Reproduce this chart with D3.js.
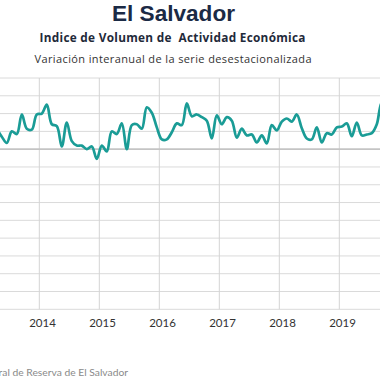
<!DOCTYPE html>
<html>
<head>
<meta charset="utf-8">
<script src="https://cdn.jsdelivr.net/npm/d3@7/dist/d3.min.js"></script>
<style>
  html, body { margin: 0; padding: 0; background: #fff; overflow: hidden; }
  svg { display: block; }
</style>
</head>
<body>
<svg id="chart" width="380" height="380"></svg>
<script>
// Monthly index: 0 = Jan 2014
const startMonth = -9; // Apr 2013
const values = [
  2.3, 1.4, 0.7, 2.0, 1.7, 3.9, 2.3, 2.2, 3.9,          // Apr-Dec 2013
  4.0, 5.0, 2.8, 2.6, 0.3, 3.0, 0.9, 0.4, 0.4, 0.0, 0.3, -1.1, // 2014
  0.4, -0.25, 2.0, 1.7, 2.9, 0.0, 2.7, 2.8, 2.3, 4.7, 4.1, 2.45, // 2015
  1.1, 1.1, 1.9, 2.9, 2.7, 5.15, 3.7, 3.9, 3.6, 3.2, 1.2, 3.8,   // 2016
  2.8, 3.6, 3.2, 1.3, 2.3, 1.55, 1.65, 0.75, 1.55, 0.65, 2.7, 2.1, // 2017
  3.1, 3.45, 3.1, 3.9, 2.35, 1.2, 1.1, 2.45, 0.75, 1.8, 1.65, 2.45, // 2018
  2.55, 2.9, 1.45, 3.0, 1.55, 1.65, 1.8, 2.8, 5.25, 5.5           // 2019
];
const years = ["2014", "2015", "2016", "2017", "2018", "2019"];
const yTicks = [-18, -16, -14, -12, -10, -8, -6, -4, -2, 0, 2, 4, 6, 8];

const data = values.map((v, i) => ({ k: startMonth + i, v }));

const svg = d3.select("#chart");
const W = 380;
const plotTop = 78, plotBottom = 309.3;

const x = d3.scaleLinear().domain([0, 12]).range([41.8, 101.8]);
const y = d3.scaleLinear().domain([-18, 8]).range([plotBottom, plotTop]);

// Titles
svg.append("text").attr("x", 173.5).attr("y", 20.5)
  .attr("text-anchor", "middle")
  .style("font-family", "'Liberation Sans', Arial, sans-serif").style("font-weight", "700")
  .style("font-size", "22px").attr("fill", "#1b2a45")
  .attr("textLength", 123).attr("lengthAdjust", "spacingAndGlyphs")
  .text("El Salvador");
svg.append("text").attr("x", 172.5).attr("y", 41.5)
  .attr("text-anchor", "middle")
  .style("font-family", "'Open Sans', sans-serif").style("font-weight", "700")
  .style("font-size", "11.8px").attr("fill", "#1f2a3a")
  .style("white-space", "pre")
  .attr("textLength", 266).attr("lengthAdjust", "spacing")
  .text("Indice de Volumen de  Actividad Económica");
svg.append("text").attr("x", 173).attr("y", 63)
  .attr("text-anchor", "middle")
  .style("font-family", "'Open Sans', sans-serif")
  .style("font-size", "11px").attr("fill", "#333")
  .attr("textLength", 277).attr("lengthAdjust", "spacing")
  .text("Variación interanual de la serie desestacionalizada");

// Horizontal gridlines
svg.append("g").selectAll("line").data(yTicks.filter(t => t !== 0)).join("line")
  .attr("x1", 0).attr("x2", W)
  .attr("y1", d => y(d)).attr("y2", d => y(d))
  .attr("stroke", "#dadada").attr("stroke-width", 1);

// Vertical gridlines (year boundaries)
const boundaries = d3.range(-12, 84, 12).map(k => k - 0.5);
svg.append("g").selectAll("line").data(boundaries).join("line")
  .attr("x1", d => x(d)).attr("x2", d => x(d))
  .attr("y1", plotTop).attr("y2", plotBottom)
  .attr("stroke", "#d4d4d4").attr("stroke-width", 1);

// Zero line
svg.append("line").attr("x1", 0).attr("x2", W)
  .attr("y1", y(0)).attr("y2", y(0))
  .attr("stroke", "#c4c4c4").attr("stroke-width", 1.6);

// Year labels
svg.append("g").selectAll("text").data(years).join("text")
  .attr("x", (d, i) => x(12 * i) + 0.7).attr("y", 326.5)
  .attr("text-anchor", "middle")
  .style("font-family", "Lato, sans-serif").style("font-size", "11.5px")
  .attr("fill", "#333")
  .text(d => d);

// Line
const line = d3.line().x(d => x(d.k)).y(d => y(d.v)).curve(d3.curveCatmullRom.alpha(0.5));
svg.append("path").datum(data).attr("d", line)
  .attr("fill", "none").attr("stroke", "#1a9c96").attr("stroke-width", 2.7)
  .attr("stroke-linejoin", "round");

// Footer
svg.append("text").attr("x", 128).attr("y", 376)
  .attr("text-anchor", "end")
  .style("font-family", "Lato, sans-serif").style("font-size", "10.3px")
  .attr("fill", "#8a8a8a")
  .text("Fuente: Banco Central de Reserva de El Salvador");
</script>
</body>
</html>
